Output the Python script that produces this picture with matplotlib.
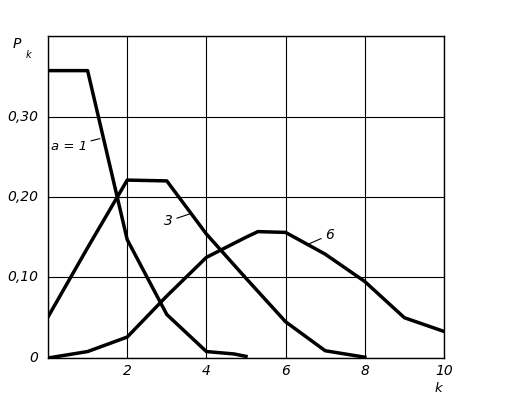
import matplotlib
matplotlib.use("Agg")
import matplotlib.pyplot as plt

# Распределение Пуассона для a = 1, 3, 6
k_a1 = [0, 1, 2, 3, 4, 4.7, 5]
p_a1 = [0.357, 0.357, 0.147, 0.054, 0.008, 0.005, 0.002]

k_a3 = [0, 1, 2, 3, 4, 5, 6, 7, 8]
p_a3 = [0.051, 0.137, 0.221, 0.220, 0.154, 0.099, 0.045, 0.009, 0.001]

k_a6 = [0, 1, 2, 3, 4, 5, 5.3, 6, 7, 8, 9, 10]
p_a6 = [0.0, 0.008, 0.026, 0.077, 0.125, 0.150, 0.157, 0.156, 0.129, 0.095, 0.050, 0.033]

x_ticks = [2, 4, 6, 8, 10]
x_labels = ["2", "4", "6", "8", "10"]
y_ticks = [0, 0.10, 0.20, 0.30]
y_labels = ["0", "0,10", "0,20", "0,30"]

fig = plt.figure(figsize=(5.08, 3.94), dpi=100)
ax = fig.add_axes([0.0945, 0.0914, 0.7795, 0.8172])

for k, p in [(k_a1, p_a1), (k_a3, p_a3), (k_a6, p_a6)]:
    ax.plot(k, p, color="black", lw=2.5, solid_joinstyle="round", zorder=3)

ax.set_xlim(0, 10)
ax.set_ylim(0, 0.40)
ax.set_xticks([0, 2, 4, 6, 8, 10])
ax.set_yticks([0, 0.1, 0.2, 0.3, 0.4])
ax.grid(True, color="black", lw=0.8)
ax.tick_params(length=0, labelbottom=False, labelleft=False)
for s in ax.spines.values():
    s.set_linewidth(1.0)

font = dict(style="italic", fontsize=10, color="black")
for x, lab in zip(x_ticks, x_labels):
    ax.text(x, -0.007, lab, ha="center", va="top", **font)
for y, lab in zip(y_ticks, y_labels):
    ax.text(-0.25, y, lab, ha="right", va="center", **font)

ax.text(9.85, -0.038, "k", ha="center", va="center", style="italic", fontsize=9.5)
ax.text(-0.8, 0.39, "P", ha="center", va="center", **font)
ax.text(-0.5, 0.377, "k", ha="center", va="center", style="italic", fontsize=7)

# подписи кривых
ax.annotate("a = 1", xy=(1.31, 0.2725), xytext=(0.98, 0.263),
            ha="right", va="center", style="italic", fontsize=9.5,
            arrowprops=dict(arrowstyle="-", lw=0.8, color="black",
                            shrinkA=1, shrinkB=0))
ax.annotate("3", xy=(3.58, 0.179), xytext=(3.15, 0.170),
            ha="right", va="center", **font,
            arrowprops=dict(arrowstyle="-", lw=0.8, color="black",
                            shrinkA=1, shrinkB=0))
ax.annotate("6", xy=(6.6, 0.142), xytext=(7.0, 0.153),
            ha="left", va="center", **font,
            arrowprops=dict(arrowstyle="-", lw=0.8, color="black",
                            shrinkA=1, shrinkB=0))

fig.savefig("out.png", dpi=100)
